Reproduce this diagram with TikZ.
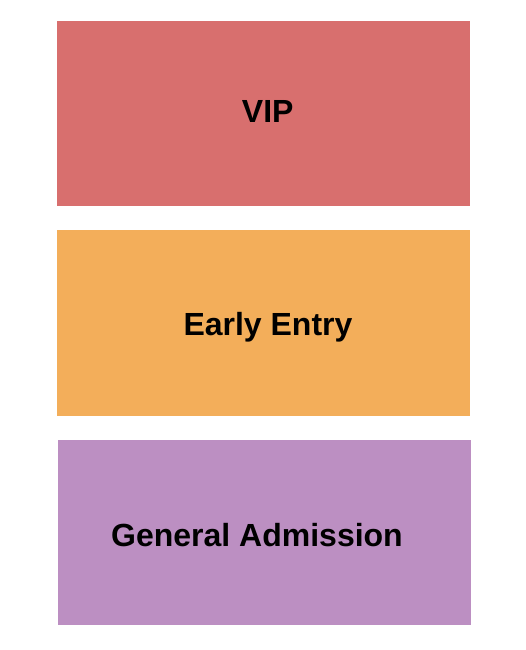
\documentclass[tikz,border=0pt]{standalone}
\usepackage{fontspec}
\setmainfont{Liberation Sans}
\definecolor{vipc}{HTML}{D86F6E}
\definecolor{earlyc}{HTML}{F3AE5A}
\definecolor{gac}{HTML}{BC8FC2}
\begin{document}
\begin{tikzpicture}[x=1pt,y=-1pt,
  lbl/.style={anchor=base,inner sep=0pt,font=\fontsize{32}{34}\selectfont\bfseries,text=black}]
\useasboundingbox (0,0) rectangle (525,650);
\fill[white] (0,0) rectangle (525,650);
\fill[vipc] (57,21) rectangle (470,206);
\fill[earlyc] (57,230) rectangle (470,415.5);
\fill[gac] (58,439.5) rectangle (470.5,625);
\node[lbl] (vip) at (267.7,123) {VIP};
\node[lbl] (early) at (268,335) {Early Entry};
\node[lbl] (ga) at (257,546) {General Admission};
\end{tikzpicture}
\end{document}
